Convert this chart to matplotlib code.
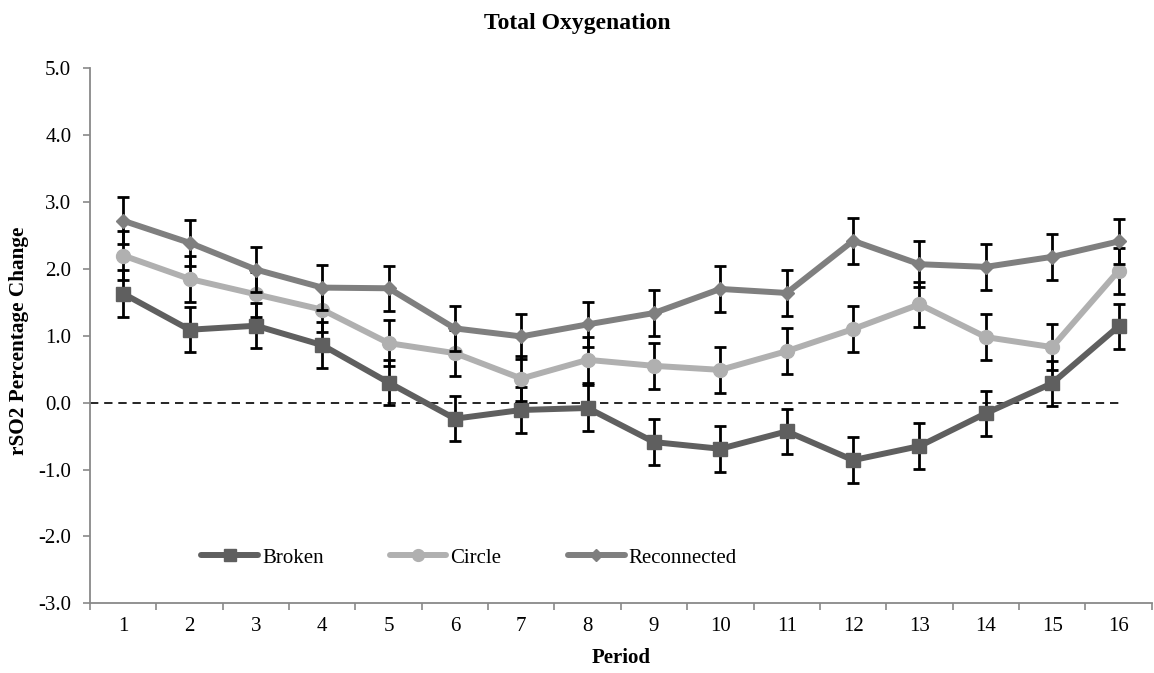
import numpy as np
import matplotlib
matplotlib.use("Agg")
import matplotlib.pyplot as plt
from matplotlib.ticker import FixedLocator, FormatStrFormatter

plt.rcParams['font.family'] = ['Liberation Serif', 'DejaVu Serif']
plt.rcParams['axes.unicode_minus'] = False

# data
periods = list(range(1, 17))
broken = [1.63, 1.09, 1.15, 0.86, 0.30, -0.24, -0.11, -0.08, -0.59, -0.69, -0.43, -0.86, -0.65, -0.16, 0.29, 1.14]
circle = [2.20, 1.85, 1.62, 1.39, 0.89, 0.74, 0.36, 0.64, 0.55, 0.49, 0.77, 1.10, 1.47, 0.98, 0.83, 1.97]
reconnected = [2.72, 2.39, 1.99, 1.72, 1.71, 1.11, 0.99, 1.17, 1.34, 1.70, 1.64, 2.42, 2.07, 2.03, 2.18, 2.41]
broken_err = [0.35, 0.34, 0.34, 0.34, 0.34, 0.34, 0.34, 0.34, 0.34, 0.34, 0.34, 0.34, 0.34, 0.34, 0.34, 0.34]
circle_err = [0.36, 0.34, 0.34, 0.34, 0.34, 0.34, 0.34, 0.34, 0.34, 0.34, 0.34, 0.34, 0.34, 0.34, 0.34, 0.34]
recon_err = [0.35, 0.34, 0.34, 0.34, 0.34, 0.34, 0.34, 0.34, 0.34, 0.34, 0.34, 0.34, 0.34, 0.34, 0.34, 0.34]

fig = plt.figure(figsize=(11.54, 6.73), dpi=100)
ax = fig.add_axes([0.078, 0.1036, 0.92, 0.795])

x = np.array(periods)
# zero reference line
ax.plot([0.5, 16.05], [0, 0], ls=(0, (5, 3.5)), color='black', lw=1.2, zorder=1)

series = [
    ('Broken', broken, broken_err, '#5f5f5f', 's', 10),
    ('Circle', circle, circle_err, '#b0b0b0', 'o', 10),
    ('Reconnected', reconnected, recon_err, '#7f7f7f', 'D', 7),
]
for i, (name, vals, err, col, mk, ms) in enumerate(series):
    ax.errorbar(x, vals, yerr=err, fmt='none', ecolor='black', elinewidth=2,
                capsize=4.5, capthick=2, zorder=2 + 2 * i)
    ax.plot(x, vals, color=col, lw=4.3, marker=mk, ms=ms, label=name,
            solid_capstyle='round', zorder=3 + 2 * i)

ax.set_xlim(0.5, 16.5)
ax.set_ylim(-3, 5)
ax.xaxis.set_major_locator(FixedLocator(np.arange(0.5, 17, 1)))
ax.xaxis.set_minor_locator(FixedLocator(x))
ax.set_xticklabels([])
ax.set_xticklabels([str(p) for p in periods], minor=True)
ax.tick_params(axis='x', which='major', length=5, color='#898989', width=1.2)
ax.tick_params(axis='x', which='minor', length=0, labelsize=15, pad=10)
ax.set_yticks(np.arange(-3, 5.1, 1))
ax.yaxis.set_major_formatter(FormatStrFormatter('%.1f'))
ax.tick_params(axis='y', length=5, color='#898989', width=1.2, labelsize=15, pad=8.5)

for s in ['top', 'right']:
    ax.spines[s].set_visible(False)
for s in ['left', 'bottom']:
    ax.spines[s].set_color('#898989')
    ax.spines[s].set_linewidth(1.3)

ax.set_xlabel('Period', fontsize=15, fontweight='bold')
ax.xaxis.set_label_coords(0.5, -0.0845)
ax.set_ylabel('rSO2 Percentage Change', fontsize=15.3, fontweight='bold')
ax.yaxis.set_label_coords(-0.0574, 0.49)
fig.text(0.5, 1 - 29 / 673, 'Total Oxygenation', ha='center', va='baseline',
         fontsize=17, fontweight='bold')

ax.legend(loc='center left', bbox_to_anchor=(0.105, 0.085), ncol=3, frameon=False,
          fontsize=15, handlelength=2.7, handletextpad=0.2, columnspacing=3.2,
          borderpad=0, borderaxespad=0, markerscale=0.85)

fig.savefig('out.png', dpi=100)
